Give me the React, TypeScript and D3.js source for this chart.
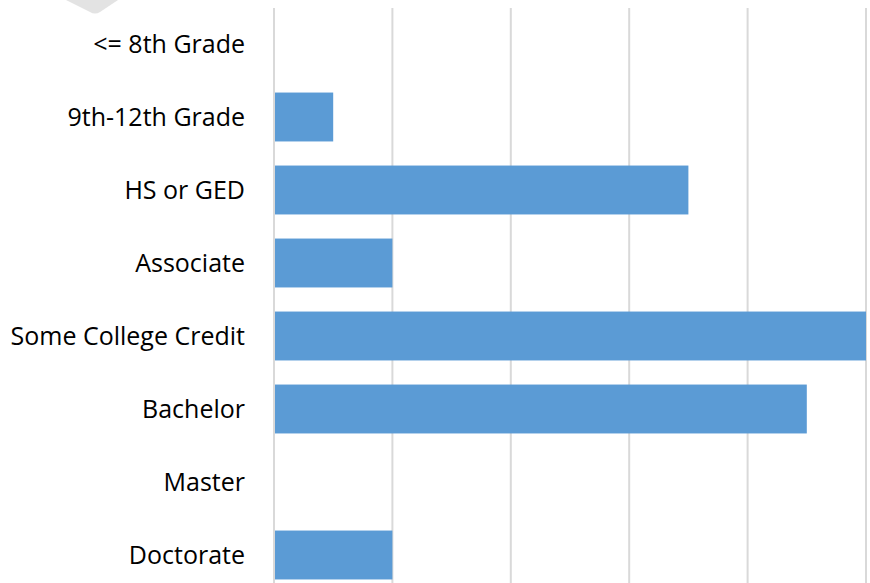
import React, { useEffect, useRef } from 'react';
import * as d3 from 'd3';

const categories = [
  '<= 8th Grade',
  '9th-12th Grade',
  'HS or GED',
  'Associate',
  'Some College Credit',
  'Bachelor',
  'Master',
  'Doctorate',
];
const values = [0, 0.5, 3.5, 1, 5, 4.5, 0, 1];
const ticks = [0, 1, 2, 3, 4, 5];

export default function App() {
  const ref = useRef<SVGSVGElement>(null);

  useEffect(() => {
    document.body.style.margin = '0';
    const svg = d3.select(ref.current);
    svg.selectAll('*').remove();

    const width = 870, height = 583;
    const left = 274, right = 866, top = 7.5, bottom = 591.5;

    const x = d3.scaleLinear().domain([0, 5]).range([left, right]);
    const y = d3.scaleBand().domain(categories).range([top, bottom]).paddingInner(0.33).paddingOuter(0.165);

    // little grey shape cut off at the top
    svg.append('path')
      .attr('d', 'M66,0 L118,0 L100,12 Q95,15 90,12 Z')
      .attr('fill', '#e3e3e3');

    // vertical gridlines
    svg.append('g')
      .selectAll('line')
      .data(ticks)
      .enter()
      .append('line')
      .attr('x1', d => x(d))
      .attr('x2', d => x(d))
      .attr('y1', 8)
      .attr('y2', height)
      .attr('stroke', '#d9d9d9')
      .attr('stroke-width', 2);

    const rows = categories.map((c, i) => ({ c, v: values[i] }));

    svg.append('g')
      .selectAll('rect')
      .data(rows.filter(d => d.v > 0))
      .enter()
      .append('rect')
      .attr('x', x(0) + 1)
      .attr('y', d => y(d.c)!)
      .attr('width', d => x(d.v) - x(0) - 1)
      .attr('height', y.bandwidth())
      .attr('fill', '#5b9bd5');

    // category labels
    svg.append('g')
      .selectAll('text')
      .data(rows)
      .enter()
      .append('text')
      .attr('x', 245)
      .attr('y', d => y(d.c)! + y.bandwidth() / 2)
      .attr('dy', '0.35em')
      .attr('text-anchor', 'end')
      .attr('font-family', '"Open Sans", sans-serif')
      .attr('font-size', 25)
      .attr('fill', '#000')
      .text(d => d.c);

    svg.attr('width', width).attr('height', height);
  }, []);

  return <svg ref={ref} style={{ display: 'block', background: '#fff' }} />;
}
